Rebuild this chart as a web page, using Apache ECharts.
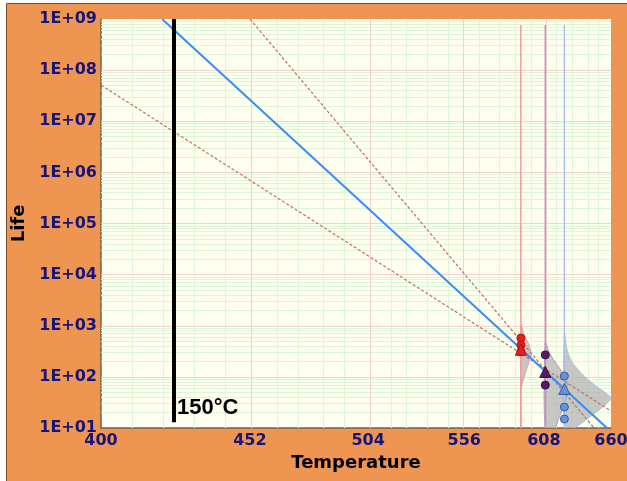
<!DOCTYPE html>
<html>
<head>
<meta charset="utf-8">
<script src="https://cdn.jsdelivr.net/npm/echarts@6/dist/echarts.min.js"></script>
<style>
  html, body { margin: 0; padding: 0; background: #fff; }
  #box { width: 627px; height: 481px; }
</style>
</head>
<body>
<div id="box"></div>
<script>
// axis ticks (temperature, K) and life decades
let tempTicks = [400, 452, 504, 556, 608, 660];
let lifeMin = 10, lifeMax = 1e9;

// test temperatures and failure times
let testTemps = [592, 609, 623];
let redLife = [575, 418, 311];
let purpleLife = [269, 69];
let blueLife = [104, 25.7, 15];
// median life at each test temperature (triangles)
let medianLife = [340, 125, 58];

// fitted line and confidence bounds, [temperature, life]
let fitLine = [[419.8, 1e9], [656.6, 10]];
let upperBound = [[452.0, 1e9], [646.1, 10]];
let lowerBound = [[400, 5.1e7], [660, 21.5]];

// 150°C reference line
let refTemp = 423.9;
let refLife = [1e9, 13];

// pdf outlines drawn at each test temperature, [temperature, life]
let redPdf = [[592, 1035], [594.2, 659], [597.6, 420], [599.0, 268], [596.9, 171], [594.2, 99], [592, 55]];
let purplePdf = [[609, 481], [611.7, 307], [616.1, 195], [621.3, 125], [625.0, 79], [625.0, 44], [622.0, 24.6], [618.3, 14.4], [616.1, 10]];
let bluePdf = [[623, 721], [625.0, 336], [628.8, 195], [635.0, 125], [643.6, 79], [654.2, 51], [660, 38.6], [654.2, 27], [643.6, 17.2], [630.3, 10]];
let baselineTop = 7.6e8;

let colors = ['#e8201c', '#5a1a60', '#6a90da'];
let edgeColors = ['#b01010', '#3a0a40', '#2f5aa8'];
let baseColors = ['#f29a9a', '#b898c4', '#a9c2ea'];

// x is plotted as -1000/T so the axis is reciprocal in temperature
function tx(t) { return -1000 / t; }
function pt(p) { return [tx(p[0]), p[1]]; }

let chart = echarts.init(document.getElementById('box'));

// grid lines
let minorColor = '#def6d8', majorColor = '#f7cfcf';
let gridMarks = [];
for (let k = 0; k < 25; k++) {
    let t = 400 + k * 10.4;
    if (k % 5 === 0) continue;
    gridMarks.push({ xAxis: tx(t), lineStyle: { color: minorColor } });
}
for (let d = 1; d < 9; d++) {
    for (let m = 2; m <= 9; m++) {
        gridMarks.push({ yAxis: m * Math.pow(10, d), lineStyle: { color: minorColor } });
    }
}
tempTicks.slice(1, -1).forEach(function (t) {
    gridMarks.push({ xAxis: tx(t), lineStyle: { color: majorColor } });
});
for (let d = 2; d < 9; d++) {
    gridMarks.push({ yAxis: Math.pow(10, d), lineStyle: { color: majorColor } });
}

let pdfs = [redPdf, purplePdf, bluePdf];
let pointSets = [redLife, purpleLife, blueLife];

let series = [
    {
        type: 'line', data: [], silent: true, z: 1,
        markLine: {
            silent: true, symbol: 'none', animation: false, z: 1,
            label: { show: false },
            lineStyle: { type: 'solid', width: 1 },
            data: gridMarks
        }
    },
    {
        type: 'custom', z: 2, clip: true,
        data: testTemps.map(function (t) { return [tx(t), lifeMin]; }),
        renderItem: function (params, api) {
            let i = params.dataIndex;
            let t = testTemps[i];
            let pts = pdfs[i].map(function (p) { return api.coord(pt(p)); });
            pts.push(api.coord([tx(t), lifeMin]));
            return {
                type: 'polygon',
                shape: { points: pts, smooth: 0.25 },
                style: { fill: 'rgba(175,175,175,0.7)', stroke: baseColors[i], lineWidth: 1 }
            };
        }
    }
];

testTemps.forEach(function (t, i) {
    series.push({
        type: 'line', z: 3, symbol: 'none', silent: true,
        data: [[tx(t), baselineTop], [tx(t), lifeMin]],
        lineStyle: { color: baseColors[i], width: 1.5 }
    });
});

series.push(
    {
        type: 'line', z: 4, symbol: 'none',
        data: upperBound.map(pt),
        lineStyle: { color: '#c46a6a', width: 1.2, type: [3, 2] }
    },
    {
        type: 'line', z: 4, symbol: 'none',
        data: lowerBound.map(pt),
        lineStyle: { color: '#c46a6a', width: 1.2, type: [3, 2] }
    },
    {
        type: 'line', z: 5, symbol: 'none',
        data: fitLine.map(pt),
        lineStyle: { color: '#3a8cf5', width: 2 }
    },
    {
        type: 'line', z: 6, symbol: 'none',
        data: refLife.map(function (v) { return [tx(refTemp), v]; }),
        lineStyle: { color: '#000', width: 4 }
    },
    {
        type: 'scatter', z: 6, symbolSize: 0, silent: true,
        data: [[tx(refTemp), 25]],
        itemStyle: { opacity: 1 },
        label: {
            show: true, position: 'right', distance: 3, formatter: '150°C',
            color: '#000', fontFamily: 'Liberation Sans', fontWeight: 'bold', fontSize: 22
        }
    }
);

testTemps.forEach(function (t, i) {
    series.push({
        type: 'scatter', z: 7, symbol: 'circle', symbolSize: 8,
        data: pointSets[i].map(function (v) { return [tx(t), v]; }),
        itemStyle: { color: colors[i], borderColor: edgeColors[i], borderWidth: 1, opacity: 1 }
    });
});
series.push({
    type: 'scatter', z: 8, symbol: 'triangle', symbolSize: [11, 11],
    data: medianLife.map(function (v, i) {
        return { value: [tx(testTemps[i]), v], itemStyle: { color: colors[i], borderColor: edgeColors[i] } };
    }),
    itemStyle: { borderWidth: 1, opacity: 1 }
});

let labelStyle = { color: '#14147a', fontFamily: 'DejaVu Sans', fontWeight: 'bold', fontSize: 16 };

let option = {
    backgroundColor: '#fff',
    animation: false,
    graphic: [{
        type: 'rect', z: -10, silent: true,
        shape: { x: 6.5, y: 3.5, width: 630, height: 490 },
        style: { fill: '#ef9552', stroke: '#7b4c22', lineWidth: 1 }
    }],
    grid: {
        left: 101, right: 16, top: 19, bottom: 53,
        outerBoundsMode: 'none', containLabel: false,
        show: true, backgroundColor: '#fffff0', borderWidth: 0
    },
    xAxis: {
        type: 'value', min: tx(400), max: tx(660),
        name: 'Temperature', nameLocation: 'middle', nameGap: 24,
        nameTextStyle: { color: '#000', fontFamily: 'DejaVu Sans', fontWeight: 'bold', fontSize: 18 },
        axisLine: { lineStyle: { color: '#6e6150', width: 1.5 } },
        axisTick: { show: false },
        splitLine: { show: false },
        axisLabel: Object.assign({
            customValues: tempTicks.map(tx), margin: 5,
            formatter: function (v) { return Math.round(-1000 / v); }
        }, labelStyle)
    },
    yAxis: {
        type: 'log', logBase: 10, min: lifeMin, max: lifeMax,
        name: 'Life', nameLocation: 'middle', nameGap: 58, nameRotate: 90,
        nameTextStyle: { color: '#000', fontFamily: 'DejaVu Sans', fontWeight: 'bold', fontSize: 18 },
        axisLine: { show: true, lineStyle: { color: '#6e6150', width: 1.5 } },
        axisTick: { show: false },
        splitLine: { show: false },
        axisLabel: Object.assign({
            margin: 4,
            formatter: function (v) {
                let e = Math.round(Math.log10(v));
                return '1E+' + (e < 10 ? '0' + e : e);
            }
        }, labelStyle)
    },
    series: series
};
chart.setOption(option);
</script>
</body>
</html>
